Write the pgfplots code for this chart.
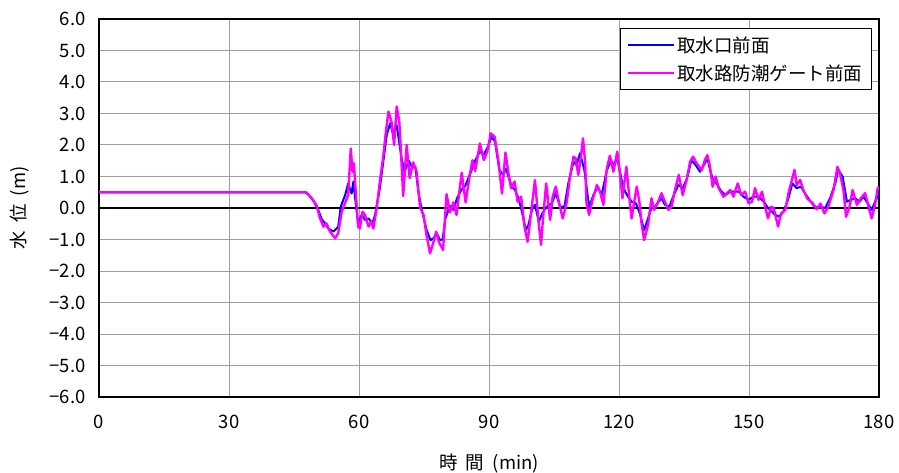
\documentclass[border=0pt]{standalone}
\usepackage{fontspec}
\setmainfont{Noto Sans CJK JP}
\usepackage{pgfplots}
\pgfplotsset{compat=1.18}
\definecolor{mag}{RGB}{255,0,255}
\definecolor{blu}{RGB}{0,0,255}
\begin{document}
\begin{tikzpicture}
\useasboundingbox (-99pt,-75pt) rectangle (800pt,397pt);
\begin{axis}[
  at={(0,0)}, anchor=south west,
  scale only axis, width=780pt, height=378pt,
  xmin=0, xmax=180, ymin=-6, ymax=6,
  xtick={0,30,...,180},
  ytick={-6,-5,...,6},
  yticklabels={−6.0,−5.0,−4.0,−3.0,−2.0,−1.0,0.0,1.0,2.0,3.0,4.0,5.0,6.0},
  /pgf/number format/assume math mode=true,
  tick label style={font=\fontsize{18.5}{20}\selectfont},
  tick style={draw=none},
  yticklabel style={xshift=-10pt},
  xticklabel style={yshift=-15pt},
  grid=major,
  grid style={gray!75, line width=1pt},
  axis line style={black, line width=1.8pt},
  extra y ticks={0}, extra y tick labels={},
  extra y tick style={grid=major, grid style={black, line width=1.3pt}},
  xlabel={時\hspace{0.45em}間\hspace{0.45em}(min)},
  ylabel={水\hspace{0.45em}位\hspace{0.45em}(m)},
  label style={font=\fontsize{18.5}{20}\selectfont},
  xlabel style={yshift=-18pt},
  ylabel style={yshift=14pt},
  legend style={at={(1,1)}, anchor=north east, xshift=-7pt, yshift=-9pt,
    draw=black, line width=1.2pt, font=\fontsize{18.5}{21}\selectfont,
    row sep=7pt, inner xsep=7pt, inner ysep=6pt},
  legend cell align=left,
  legend image code/.code={\draw[#1, line width=2pt] (0pt,0pt) -- (46pt,0pt);},
]
\addplot[blu, line width=2pt, line join=round] coordinates {
(0,0.5)(47.5,0.5)(48.3,0.43)(49.5,0.22)(50.6,-0.06)(51.4,-0.36)(52.2,-0.49)(52.9,-0.65)(54.1,-0.75)(55.2,-0.6)(55.8,0.05)(56.8,0.41)(57.5,0.78)(58.3,0.46)(58.7,0.84)(59.2,0.2)(59.8,-0.49)(60.6,-0.22)(61.4,-0.38)(62.2,-0.33)(63.1,-0.49)(63.7,-0.22)(64.8,0.62)(65.6,1.47)(66.4,2.32)(67.2,2.69)(67.9,2.32)(68.7,2.63)(69.8,1.6)(70.5,1.15)(71.5,1.5)(72.3,1.28)(73.0,1.31)(73.7,0.5)(74.5,-0.06)(75.6,-0.7)(76.5,-1.02)(77.2,-0.96)(78.0,-0.82)(78.7,-1.02)(79.3,-1.0)(79.9,-0.35)(81.0,0.07)(81.8,-0.06)(82.6,0.3)(83.5,0.55)(84.5,0.7)(85.6,1.07)(86.8,1.5)(87.9,1.8)(88.7,1.68)(89.6,1.9)(90.6,2.26)(91.4,2.1)(92.4,1.2)(93.3,1.05)(93.9,1.25)(94.5,1.0)(95.2,0.68)(96.0,0.57)(96.8,0.31)(97.5,-0.06)(98.5,-0.7)(99.1,-0.54)(99.9,-0.06)(100.6,0.1)(101.5,-0.43)(102.3,-0.17)(103.3,0.04)(104.5,0.15)(105.4,0.47)(106.4,0.04)(107.4,0.04)(108.3,0.78)(109.5,1.47)(110.2,1.36)(111.0,1.74)(112.0,1.21)(113.1,0.04)(114.1,0.41)(115.1,0.68)(116.0,0.41)(117.2,1.21)(118.2,1.5)(118.8,1.36)(119.6,1.58)(120.6,0.89)(121.4,0.52)(122.1,0.36)(122.9,0.2)(123.9,0.15)(124.8,-0.17)(125.8,-0.7)(126.7,-0.33)(127.5,0.0)(128.3,0.04)(129.1,0.2)(129.8,0.31)(130.6,0.1)(131.6,0.04)(132.5,0.36)(133.7,0.73)(134.7,0.63)(135.7,0.94)(136.7,1.52)(137.7,1.36)(138.7,1.15)(139.8,1.42)(140.4,1.58)(141.0,1.21)(141.7,0.89)(142.5,0.78)(143.4,0.57)(144.5,0.41)(145.7,0.52)(146.8,0.52)(147.7,0.52)(148.7,0.36)(149.9,0.26)(151.0,0.36)(152.2,0.36)(153.4,0.2)(154.4,0.0)(155.3,-0.11)(156.0,-0.22)(157.0,-0.27)(158.0,-0.11)(159.1,0.31)(160.0,0.78)(161.0,0.63)(162.0,0.68)(163.0,0.45)(164.1,0.22)(165.3,0.02)(166.4,0.04)(167.6,0.0)(168.7,0.31)(169.9,0.78)(170.6,1.21)(171.6,1.0)(172.6,0.2)(173.5,0.26)(174.5,0.31)(175.5,0.2)(176.4,0.36)(177.6,0.1)(178.3,-0.06)(179.1,0.2)(180,0.45)
};
\addlegendentry{取水口前面}
\addplot[mag, line width=2.4pt, line join=round] coordinates {
(0,0.5)(47.8,0.5)(49.1,0.31)(50.2,0.09)(51.0,-0.33)(51.8,-0.59)(52.5,-0.49)(53.3,-0.75)(54.5,-0.96)(55.2,-0.8)(56.0,-0.12)(56.9,0.2)(57.5,0.41)(58.1,1.89)(58.5,1.15)(58.8,1.42)(59.3,0.41)(59.8,-0.59)(60.2,-0.65)(60.8,-0.12)(61.4,-0.22)(62.2,-0.59)(62.8,-0.43)(63.3,-0.65)(64.1,0.0)(64.8,0.83)(65.6,1.63)(66.2,2.42)(66.8,3.06)(67.5,2.74)(68.1,2.0)(68.7,3.22)(69.3,2.74)(69.8,1.47)(70.2,0.38)(71.0,2.0)(71.7,0.95)(72.5,1.45)(73.3,1.15)(74.1,0.0)(74.9,-0.22)(75.6,-0.88)(76.4,-1.44)(77.2,-1.07)(77.8,-0.75)(78.5,-1.1)(79.4,-1.33)(80.2,0.44)(81.0,-0.14)(81.8,0.18)(82.5,-0.22)(83.7,1.12)(84.6,0.18)(85.5,1.0)(86.2,1.52)(86.8,1.17)(87.9,2.05)(88.8,1.52)(89.6,1.79)(90.4,2.37)(91.3,2.26)(92.2,1.47)(93.0,0.46)(93.8,1.76)(94.5,1.1)(95.1,0.62)(95.9,0.84)(96.6,0.2)(97.4,0.36)(98.2,-0.59)(98.9,-1.07)(99.7,-0.16)(100.6,0.89)(101.4,-0.38)(102.0,-1.17)(102.5,-0.27)(103.2,0.78)(104.1,-0.38)(104.7,0.36)(105.4,0.68)(106.2,0.15)(107.0,-0.33)(107.9,0.15)(108.7,1.0)(109.5,1.63)(110.0,1.58)(110.6,1.05)(111.2,1.63)(111.7,2.21)(112.2,1.42)(112.5,0.15)(113.1,-0.22)(113.9,0.26)(114.9,0.73)(115.6,0.53)(116.4,0.1)(117.2,1.26)(117.9,1.66)(118.7,1.15)(119.6,1.79)(120.2,1.1)(120.8,0.31)(121.7,1.31)(122.4,0.31)(122.9,-0.33)(123.4,0.1)(124.1,0.68)(124.7,0.2)(125.2,-0.49)(125.8,-1.02)(126.7,-0.54)(127.5,0.31)(128.1,-0.06)(128.9,0.15)(129.8,0.47)(130.6,0.2)(131.4,-0.06)(132.1,0.04)(132.9,0.57)(133.8,1.05)(134.7,0.41)(135.6,0.89)(136.4,1.47)(137.1,1.63)(137.9,1.42)(139.1,1.2)(139.8,1.52)(140.4,1.68)(141.0,1.31)(141.6,0.68)(142.3,1.0)(143.0,0.63)(144.1,0.36)(144.9,0.47)(145.7,0.57)(146.4,0.36)(147.4,0.78)(148.2,0.41)(149.1,0.52)(149.9,0.15)(150.7,0.2)(151.4,0.63)(152.2,0.26)(153.0,0.52)(153.7,0.04)(154.4,-0.33)(155.1,0.04)(155.7,0.0)(156.7,-0.59)(157.4,-0.17)(158.4,-0.06)(159.1,0.47)(159.9,0.89)(160.5,1.21)(161.0,0.73)(161.8,0.89)(162.6,0.54)(163.5,0.29)(164.7,0.15)(165.6,-0.04)(166.5,0.14)(167.4,-0.17)(168.3,0.04)(169.5,0.57)(170.4,1.31)(171.0,1.1)(171.8,0.57)(172.4,-0.28)(173.2,0.04)(173.9,0.57)(174.9,0.1)(175.8,0.31)(176.8,0.47)(177.6,0.04)(178.3,-0.33)(179.1,0.1)(179.7,0.63)(180,0.68)
};
\addlegendentry{取水路防潮ゲート前面}
\end{axis}
\end{tikzpicture}
\end{document}
